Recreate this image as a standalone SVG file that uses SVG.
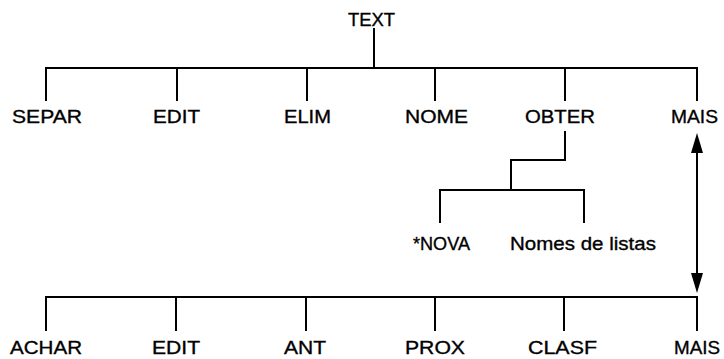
<svg xmlns="http://www.w3.org/2000/svg" width="724" height="359" viewBox="0 0 724 359">
<style>
.t{font-family:"Liberation Sans",Arial,sans-serif;font-size:19px;fill:#000;stroke:#000;stroke-width:0.35px}
.c{stroke:#000;stroke-width:2;fill:none;stroke-linecap:square}
</style>
<defs>
<marker id="ah" viewBox="0 0 20 12" refX="13" refY="6" markerWidth="20" markerHeight="12" markerUnits="userSpaceOnUse" orient="auto-start-reverse">
<path d="M0,0 L20,6 L0,12 z" fill="#000"/>
</marker>
</defs>
<rect width="724" height="359" fill="#fff"/>
<g id="connectors">
<path class="c" d="M374,29 V68 M46,100 V68 H697 V100 M177,68 V100 M307,68 V100 M435,68 V100 M565,68 V100"/>
<path class="c" d="M565,132 V160 H511 V190 M440,222 V190 H584 V222"/>
<path class="c" d="M46,330 V297 H697 V330 M176,297 V330 M306,297 V330 M435,297 V330 M564,297 V330"/>
<line x1="697" y1="140" x2="697" y2="286" stroke="#000" stroke-width="2" marker-start="url(#ah)" marker-end="url(#ah)"/>
</g>
<g id="n-text"><text class="t" x="348" y="26" textLength="47" lengthAdjust="spacingAndGlyphs">TEXT</text></g>
<g id="n-separ"><text class="t" x="12" y="123" textLength="70" lengthAdjust="spacingAndGlyphs">SEPAR</text></g>
<g id="n-edit1"><text class="t" x="153" y="123" textLength="47" lengthAdjust="spacingAndGlyphs">EDIT</text></g>
<g id="n-elim"><text class="t" x="284" y="123" textLength="47" lengthAdjust="spacingAndGlyphs">ELIM</text></g>
<g id="n-nome"><text class="t" x="405" y="123" textLength="63" lengthAdjust="spacingAndGlyphs">NOME</text></g>
<g id="n-obter"><text class="t" x="525" y="123" textLength="70" lengthAdjust="spacingAndGlyphs">OBTER</text></g>
<g id="n-mais1"><text class="t" x="671" y="123" textLength="47" lengthAdjust="spacingAndGlyphs">MAIS</text></g>
<g id="n-nova"><text class="t" x="413" y="250" textLength="57" lengthAdjust="spacingAndGlyphs">*NOVA</text></g>
<g id="n-nomes"><text class="t" x="510" y="250" textLength="146" lengthAdjust="spacingAndGlyphs">Nomes de listas</text></g>
<g id="n-achar"><text class="t" x="10" y="354" textLength="72" lengthAdjust="spacingAndGlyphs">ACHAR</text></g>
<g id="n-edit2"><text class="t" x="152" y="354" textLength="48" lengthAdjust="spacingAndGlyphs">EDIT</text></g>
<g id="n-ant"><text class="t" x="284" y="354" textLength="42" lengthAdjust="spacingAndGlyphs">ANT</text></g>
<g id="n-prox"><text class="t" x="405" y="354" textLength="60" lengthAdjust="spacingAndGlyphs">PROX</text></g>
<g id="n-clasf"><text class="t" x="528" y="354" textLength="69" lengthAdjust="spacingAndGlyphs">CLASF</text></g>
<g id="n-mais2"><text class="t" x="674" y="354" textLength="46" lengthAdjust="spacingAndGlyphs">MAIS</text></g>
</svg>
